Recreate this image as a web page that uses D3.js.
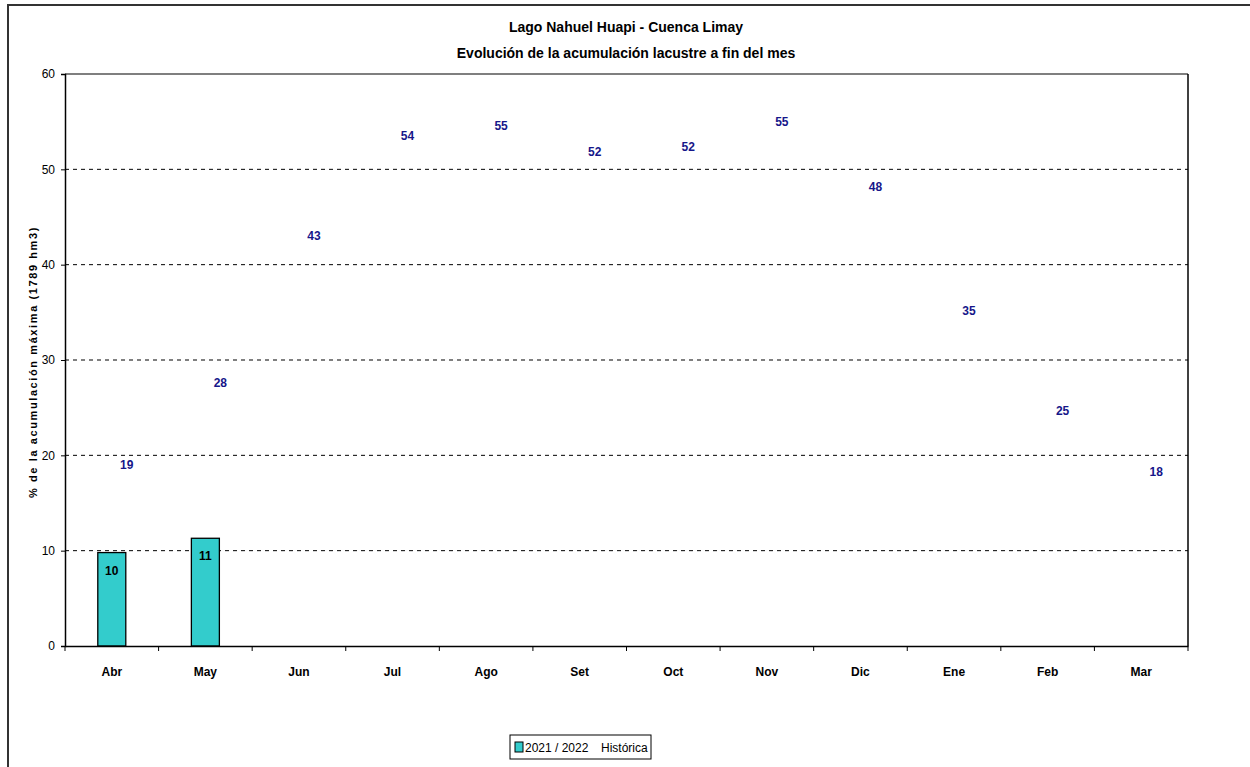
<!DOCTYPE html>
<html>
<head>
<meta charset="utf-8">
<script src="https://cdn.jsdelivr.net/npm/d3@7"></script>
<style>
  body { margin: 0; background: #fff; }
  svg { display: block; font-family: "Liberation Sans", Arial, sans-serif; }
</style>
</head>
<body>
<svg id="chart" width="1250" height="767"></svg>
<script>
const months = ["Abr","May","Jun","Jul","Ago","Set","Oct","Nov","Dic","Ene","Feb","Mar"];
const current = [9.8, 11.3];           // 2021 / 2022
const historica = [19.0, 27.6, 43.1, 53.5, 54.6, 51.9, 52.4, 55.0, 48.2, 35.2, 24.7, 18.3];
const yTicks = [0, 10, 20, 30, 40, 50, 60];
const titleLines = ["Lago Nahuel Huapi - Cuenca Limay", "Evolución de la acumulación lacustre a fin del mes"];
const yLabel = "% de la acumulación máxima (1789 hm3)";

const svg = d3.select("#chart");
const m = {left: 65, right: 1188, top: 74, bottom: 646};

// outer frame
svg.append("rect").attr("x", 8).attr("y", 5).attr("width", 1300).attr("height", 900)
  .attr("fill", "#fff").attr("stroke", "#333").attr("stroke-width", 2);

const x = d3.scaleBand().domain(months).range([m.left, m.right]).padding(0);
const y = d3.scaleLinear().domain([0, 60]).range([m.bottom, m.top]);

// titles
svg.selectAll("text.title").data(titleLines).join("text")
  .attr("class", "title")
  .attr("x", 626).attr("y", (d, i) => 32 + i * 26)
  .attr("text-anchor", "middle")
  .attr("font-weight", "bold").attr("font-size", 14)
  .attr("fill", "#000")
  .text(d => d);

// gridlines
svg.append("g").selectAll("line").data(yTicks.filter(t => t > 0 && t < 60)).join("line")
  .attr("x1", m.left).attr("x2", m.right)
  .attr("y1", d => y(d)).attr("y2", d => y(d))
  .attr("stroke", "#000").attr("stroke-width", 1).attr("stroke-dasharray", "4,4");

// plot border top/right
svg.append("line").attr("x1", m.left).attr("x2", m.right).attr("y1", m.top).attr("y2", m.top)
  .attr("stroke", "#000").attr("stroke-width", 1.2);
svg.append("line").attr("x1", m.right).attr("x2", m.right).attr("y1", m.top).attr("y2", m.bottom)
  .attr("stroke", "#000").attr("stroke-width", 1.5);

// bars
svg.append("g").selectAll("rect").data(current).join("rect")
  .attr("x", (d, i) => x(months[i]) + x.bandwidth() / 2 - 14)
  .attr("width", 28)
  .attr("y", d => y(d))
  .attr("height", d => y(0) - y(d))
  .attr("fill", "#33CCCC").attr("stroke", "#000").attr("stroke-width", 1.3);

svg.append("g").selectAll("text").data(current).join("text")
  .attr("x", (d, i) => x(months[i]) + x.bandwidth() / 2)
  .attr("y", d => y(d) + 22)
  .attr("text-anchor", "middle")
  .attr("font-weight", "bold").attr("font-size", 12).attr("fill", "#000")
  .text(d => Math.round(d));

// historica labels
svg.append("g").selectAll("text").data(historica).join("text")
  .attr("x", (d, i) => x(months[i]) + x.bandwidth() / 2 + 15)
  .attr("y", d => y(d) + 4.5)
  .attr("text-anchor", "middle")
  .attr("font-weight", "bold").attr("font-size", 12).attr("fill", "#16168A")
  .text(d => Math.round(d));

// y axis
const yAxis = svg.append("g").attr("transform", `translate(${m.left},0)`)
  .call(d3.axisLeft(y).tickValues(yTicks).tickSize(4).tickPadding(6));
yAxis.select(".domain").attr("stroke", "#000").attr("stroke-width", 1.5);
yAxis.selectAll(".tick line").attr("stroke", "#000");
yAxis.selectAll(".tick text").attr("font-size", 12).attr("fill", "#000")
  .attr("font-family", "Liberation Sans, Arial, sans-serif");

// x axis
const xAxis = svg.append("g").attr("transform", `translate(0,${m.bottom})`)
  .call(d3.axisBottom(x).tickSize(0).tickPadding(21));
xAxis.select(".domain").attr("stroke", "#000").attr("stroke-width", 1.5);
xAxis.selectAll(".tick text").attr("font-size", 12).attr("font-weight", "bold").attr("fill", "#000")
  .attr("font-family", "Liberation Sans, Arial, sans-serif");
// boundary ticks
const bounds = months.map(d => x(d)).concat([m.right]);
svg.append("g").selectAll("line").data(bounds).join("line")
  .attr("x1", d => d).attr("x2", d => d)
  .attr("y1", m.bottom).attr("y2", m.bottom + 5)
  .attr("stroke", "#000").attr("stroke-width", 1);

// y label
svg.append("text")
  .attr("transform", `translate(37,${(m.top + m.bottom) / 2 + 2}) rotate(-90)`)
  .attr("text-anchor", "middle")
  .attr("font-weight", "bold").attr("font-size", 11)
  .attr("letter-spacing", "1.6px")
  .attr("fill", "#000")
  .text(yLabel);

// legend
const lg = svg.append("g");
lg.append("rect").attr("x", 510).attr("y", 735).attr("width", 141).attr("height", 24)
  .attr("fill", "#fff").attr("stroke", "#000").attr("stroke-width", 1);
lg.append("rect").attr("x", 515).attr("y", 742).attr("width", 8).attr("height", 10)
  .attr("fill", "#33CCCC").attr("stroke", "#000").attr("stroke-width", 1);
lg.append("text").attr("x", 525).attr("y", 752).attr("font-size", 12).attr("fill", "#000").text("2021 / 2022");
lg.append("text").attr("x", 601).attr("y", 752).attr("font-size", 12).attr("fill", "#000").text("Histórica");
</script>
</body>
</html>
